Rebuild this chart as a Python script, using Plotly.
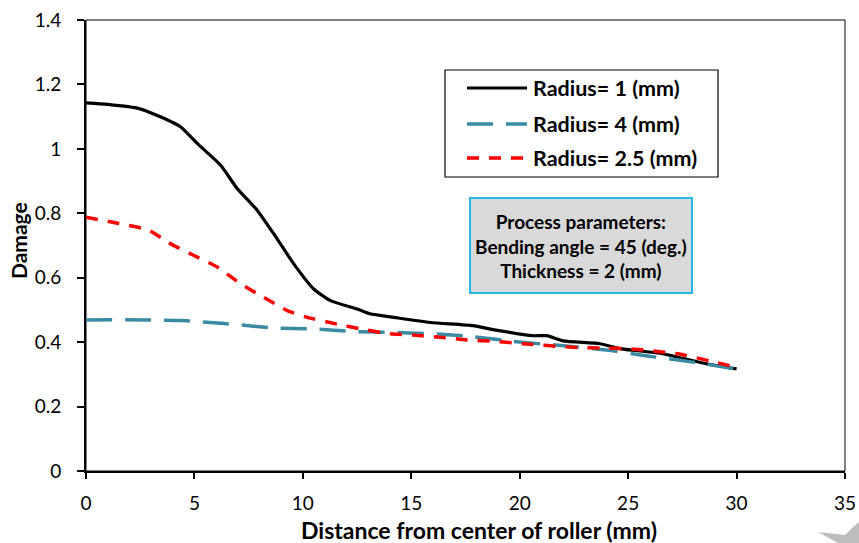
import plotly.graph_objects as go

# Data
x_r1 = [0, 1, 2.45, 3.37, 4.37, 5.14, 6.21, 6.98, 7.9, 8.66, 9.58, 10.5, 11.3, 12.5, 13.1, 14.2, 15.87, 17.85, 18.77, 20.6, 21.25, 22.0, 23.7, 24.6, 26.6, 28.6, 30.0]
y_r1 = [1.143, 1.138, 1.125, 1.101, 1.068, 1.016, 0.949, 0.876, 0.809, 0.736, 0.643, 0.565, 0.528, 0.503, 0.488, 0.477, 0.461, 0.451, 0.439, 0.420, 0.420, 0.404, 0.395, 0.380, 0.364, 0.333, 0.317]

x_r4 = [0, 2.84, 4.37, 6.36, 8.66, 10.5, 12.33, 14.2, 16.2, 17.85, 19.7, 22.0, 24.3, 25.8, 28.1, 30.0]
y_r4 = [0.469, 0.469, 0.467, 0.458, 0.444, 0.441, 0.433, 0.430, 0.425, 0.417, 0.402, 0.389, 0.373, 0.358, 0.337, 0.316]

x_r25 = [0, 1.46, 2.84, 3.91, 4.98, 6.06, 7.13, 8.2, 9.28, 10.2, 11.57, 12.66, 13.88, 15.1, 16.33, 17.56, 18.94, 20.15, 22.45, 23.7, 25.07, 26.1, 27.36, 28.74, 30.0]
y_r25 = [0.788, 0.769, 0.749, 0.705, 0.669, 0.633, 0.581, 0.539, 0.498, 0.477, 0.456, 0.441, 0.427, 0.422, 0.415, 0.407, 0.402, 0.395, 0.384, 0.382, 0.379, 0.373, 0.363, 0.342, 0.322]

series_names = ["Radius= 1 (mm)", "Radius= 4 (mm)", "Radius= 2.5 (mm)"]
x_ticks = [0, 5, 10, 15, 20, 25, 30, 35]
y_ticks = [0, 0.2, 0.4, 0.6, 0.8, 1.0, 1.2, 1.4]
x_title = "Distance from center of roller (mm)"
y_title = "Damage"

BLUE = "#3a8aa3"
RED = "#ff0000"
FONT = "Lato"

fig = go.Figure()
fig.add_trace(go.Scatter(x=x_r1, y=y_r1, mode="lines", name=series_names[0],
                         line=dict(color="black", width=3.2, shape="spline", smoothing=0.5)))
fig.add_trace(go.Scatter(x=x_r4, y=y_r4, mode="lines", name=series_names[1],
                         line=dict(color=BLUE, width=3.5, dash="26px,13px", shape="spline", smoothing=0.5)))
fig.add_trace(go.Scatter(x=x_r25, y=y_r25, mode="lines", name=series_names[2],
                         line=dict(color=RED, width=3.5, dash="12px,10px", shape="spline", smoothing=0.5)))

W, H = 859, 543
L, R, T, B = 86, 845, 20, 471
def px(x):
    return (x - L) / (R - L)
def py(y):
    return (B - y) / (B - T)

shapes = []
annotations = []
# plot frame (thin top/right)
shapes.append(dict(type="rect", xref="paper", yref="paper", x0=0, x1=1, y0=0, y1=1,
                   line=dict(color="black", width=1), layer="below"))

# Legend box
shapes.append(dict(type="rect", xref="paper", yref="paper",
                   x0=px(445), x1=px(718), y0=py(177), y1=py(70),
                   line=dict(color="black", width=1.2), fillcolor="white"))
leg_rows = [88, 124, 158]
leg_styles = [dict(color="black", width=3.2),
              dict(color=BLUE, width=3.5, dash="26px,13px"),
              dict(color=RED, width=3.5, dash="12px,10px")]
for yy, st, nm in zip(leg_rows, leg_styles, series_names):
    shapes.append(dict(type="line", xref="paper", yref="paper",
                       x0=px(467), x1=px(527), y0=py(yy), y1=py(yy), line=st))
    annotations.append(dict(xref="paper", yref="paper", x=px(531), y=py(yy),
                            text="<b>" + nm + "</b>", showarrow=False, xanchor="left",
                            yanchor="middle", font=dict(family=FONT, size=21.5, color="black")))

# Process parameters box
shapes.append(dict(type="rect", xref="paper", yref="paper",
                   x0=px(470), x1=px(692), y0=py(293), y1=py(198),
                   line=dict(color="#29b5e8", width=2), fillcolor="#d9d9d9"))
annotations.append(dict(xref="paper", yref="paper", x=px(581), y=py(246),
                        text="<b>Process parameters:<br>Bending angle = 45 (deg.)<br>Thickness = 2 (mm)</b>",
                        showarrow=False, xanchor="center", yanchor="middle", align="center",
                        font=dict(family=FONT, size=19, color="black")))

# axis titles
annotations.append(dict(xref="paper", yref="paper", x=px(479), y=py(530),
                        text="<b>" + x_title + "</b>", showarrow=False,
                        xanchor="center", yanchor="middle",
                        font=dict(family=FONT, size=23, color="black")))
annotations.append(dict(xref="paper", yref="paper", x=px(18), y=py(241),
                        text="<b>" + y_title + "</b>", showarrow=False, textangle=-90,
                        xanchor="center", yanchor="middle",
                        font=dict(family=FONT, size=21, color="black")))

# small grey decoration at bottom-right corner
pts = [(818, 532), (845, 535), (852, 528), (859, 522), (859, 543), (838, 543)]
path = "M " + " L ".join(f"{px(a)},{py(b)}" for a, b in pts) + " Z"
shapes.append(dict(type="path", xref="paper", yref="paper", path=path,
                   fillcolor="#bdbdbd", line=dict(width=0)))

fig.update_layout(
    width=W, height=H,
    margin=dict(l=L, r=W - R, t=T, b=H - B, autoexpand=False),
    paper_bgcolor="white", plot_bgcolor="white",
    showlegend=False,
    font=dict(family=FONT, size=19, color="black"),
    shapes=shapes, annotations=annotations,
    xaxis=dict(range=[0, 35], tickvals=x_ticks, showgrid=False, zeroline=False,
               showline=True, linecolor="black", linewidth=2, automargin=False,
               ticks="outside", ticklen=6, tickwidth=2, tickcolor="black",
               ticklabelstandoff=8,
               tickfont=dict(family=FONT, size=19)),
    yaxis=dict(range=[0, 1.4], tickvals=y_ticks, showgrid=False, zeroline=False,
               showline=True, linecolor="black", linewidth=2, automargin=False,
               ticks="outside", ticklen=7, tickwidth=2, tickcolor="black",
               ticklabelstandoff=12,
               tickfont=dict(family=FONT, size=19)),
)

fig.write_html("out.html",
               config={"displayModeBar": False},
               post_script="document.body.style.margin='0';document.body.style.overflow='hidden';")
